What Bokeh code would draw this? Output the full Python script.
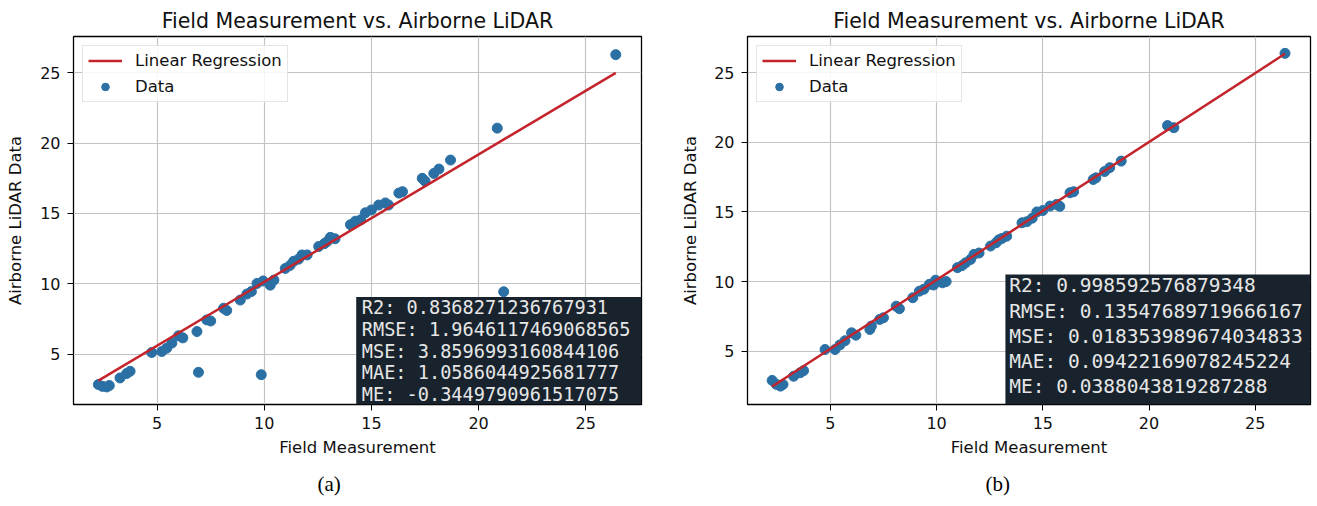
import numpy as np
from bokeh.plotting import figure
from bokeh.layouts import row
from bokeh.models import Legend, LegendItem, BoxAnnotation, Label, Title, FixedTicker
from bokeh.embed import file_html
from bokeh.resources import INLINE

# ---------------- data ----------------
field = [2.26, 2.45, 2.65, 2.77, 3.27, 3.58, 3.74, 4.75, 5.22, 5.45, 5.69, 6.00, 6.20, 6.86,
         6.93, 7.32, 7.50, 8.10, 8.25, 8.88, 9.19, 9.40, 9.66, 9.86, 9.95, 10.28, 10.45, 10.98,
         11.20, 11.37, 11.60, 11.76, 12.00, 12.54, 12.80, 12.93, 13.08, 13.30, 14.02, 14.25,
         14.50, 14.72, 15.00, 15.34, 15.65, 15.80, 16.28, 16.45, 17.37, 17.50, 17.91, 18.15,
         18.69, 20.87, 21.17, 26.40]

lidar_a = [2.83, 2.70, 2.66, 2.76, 3.30, 3.61, 3.77, 5.11, 5.18, 5.42, 5.78, 6.30, 6.15, 6.60,
           3.70, 7.43, 7.35, 8.26, 8.10, 8.84, 9.27, 9.45, 10.02, 3.53, 10.20, 9.90, 10.26, 11.09,
           11.30, 11.60, 11.75, 12.05, 12.05, 12.65, 12.85, 13.00, 13.30, 13.20, 14.20, 14.45,
           14.55, 15.05, 15.25, 15.60, 15.75, 15.60, 16.45, 16.55, 17.50, 17.30, 17.85, 18.16,
           18.80, 21.07, 9.43, 26.30]

lidar_b = [2.90, 2.62, 2.49, 2.61, 3.20, 3.45, 3.60, 5.12, 5.12, 5.45, 5.75, 6.32, 6.15, 6.56,
           6.80, 7.28, 7.40, 8.23, 8.05, 8.84, 9.31, 9.45, 9.80, 9.75, 10.10, 9.91, 10.00, 11.00,
           11.15, 11.35, 11.59, 11.95, 12.05, 12.55, 12.79, 13.00, 13.10, 13.26, 14.22, 14.30,
           14.55, 15.00, 15.10, 15.42, 15.54, 15.40, 16.38, 16.45, 17.33, 17.45, 17.90, 18.18,
           18.65, 21.20, 21.05, 26.39]

# regression lines (slope, intercept) as drawn
reg_a = [0.907, 1.06]
reg_b = [0.990, 0.22]

stats_a = ["R2: 0.8368271236767931",
           "RMSE: 1.9646117469068565",
           "MSE: 3.8596993160844106",
           "MAE: 1.0586044925681777",
           "ME: -0.3449790961517075"]
stats_b = ["R2: 0.998592576879348",
           "RMSE: 0.13547689719666167",
           "MSE: 0.018353989674034833",
           "MAE: 0.09422169078245224",
           "ME: 0.0388043819287288"]

x_ticks = [5, 10, 15, 20, 25]
y_ticks = [5, 10, 15, 20, 25]

TITLE = "Field Measurement vs. Airborne LiDAR"
XLABEL = "Field Measurement"
YLABEL = "Airborne LiDAR Data"

PT_COLOR = "#2b70a4"
LINE_COLOR = "#c4252c"
BOX_COLOR = "#18232d"
FONT = "DejaVu Sans"
FIG_H = 506


def make_panel(y, reg, stats, caption, cfg):
    p = figure(width=cfg["w"], height=FIG_H, x_range=(1.1, 27.6), y_range=cfg["yr"],
               output_backend="svg", toolbar_location=None,
               min_border_left=cfg["bl"], min_border_right=cfg["br"],
               min_border_top=36, min_border_bottom=FIG_H - 405)
    p.background_fill_color = "white"
    p.border_fill_color = "white"
    p.outline_line_color = "black"
    p.outline_line_width = 1.3

    p.title.text = TITLE
    p.title.align = "center"
    p.title.text_font = FONT
    p.title.text_font_size = "20.5px"
    p.title.text_font_style = "normal"
    p.title.text_color = "#111111"
    p.title.standoff = 7

    for ax in (p.xaxis[0], p.yaxis[0]):
        ax.ticker = FixedTicker(ticks=x_ticks)
        ax.axis_line_color = None
        ax.major_tick_in = 0
        ax.major_tick_out = 6
        ax.major_tick_line_color = "black"
        ax.minor_tick_line_color = None
        ax.major_label_text_font = FONT
        ax.major_label_text_font_size = "16px"
        ax.major_label_text_color = "#111111"
        ax.axis_label_text_font = FONT
        ax.axis_label_text_font_size = "16.5px"
        ax.axis_label_text_font_style = "normal"
        ax.axis_label_text_color = "#111111"
    p.yaxis[0].ticker = FixedTicker(ticks=y_ticks)
    p.xaxis.axis_label = XLABEL
    p.yaxis.axis_label = YLABEL
    p.xaxis.major_label_standoff = 6
    p.xaxis.axis_label_standoff = 6
    p.yaxis.major_label_standoff = 7
    p.yaxis.axis_label_standoff = cfg["ylab_standoff"]

    p.grid.grid_line_color = "#c4c4c4"
    p.grid.grid_line_width = 1.2

    sc = p.scatter(field, y, size=10, color=PT_COLOR, line_color=PT_COLOR)
    xs = np.array([min(field), max(field)])
    ln = p.line(xs, reg[0] * xs + reg[1], line_color=LINE_COLOR, line_width=2.5)

    legend = Legend(items=[LegendItem(label="Linear Regression", renderers=[ln]),
                           LegendItem(label="Data", renderers=[sc])],
                    location="top_left")
    legend.margin = 9
    legend.padding = 5
    legend.spacing = 7
    legend.glyph_width = 34
    legend.glyph_height = 19
    legend.label_height = 19
    legend.label_standoff = 13
    legend.label_text_font = FONT
    legend.label_text_font_size = "16.5px"
    legend.label_text_color = "#111111"
    legend.border_line_color = "#cccccc"
    legend.border_line_width = 1
    legend.background_fill_alpha = 0.85
    p.add_layout(legend)

    box = BoxAnnotation(left=cfg["box_left"], right=27.6, top=cfg["box_top"], bottom=cfg["yr"][0],
                        fill_color=BOX_COLOR, fill_alpha=1.0, line_color=None, level="overlay")
    p.add_layout(box)
    for i, s in enumerate(stats):
        lab = Label(x=cfg["text_x"], y=cfg["box_top"], y_offset=-(cfg["lh"] * i),
                    text=s, text_baseline="top", text_align="left",
                    text_font="DejaVu Sans Mono", text_font_size=cfg["fs"],
                    text_color="#e6e6e6", level="overlay")
        p.add_layout(lab)

    cap = Title(text=caption, align="left", offset=cfg["cap_off"],
                text_font="Liberation Serif", text_font_size="21px",
                text_font_style="normal", text_color="black", standoff=21)
    p.add_layout(cap, "below")
    return p


cfg_a = dict(w=660, yr=(1.41, 27.59), bl=73, br=19, ylab_standoff=12,
             box_left=14.29, box_top=9.06, text_x=14.55, lh=21.8, fs="18.6px", cap_off=244)
cfg_b = dict(w=656, yr=(1.17, 27.6), bl=87, br=6, ylab_standoff=11,
             box_left=13.24, box_top=10.51, text_x=13.42, lh=25.2, fs="19.5px", cap_off=238)

p1 = make_panel(lidar_a, reg_a, stats_a, "(a)", cfg_a)
p2 = make_panel(lidar_b, reg_b, stats_b, "(b)", cfg_b)

layout = row(p1, p2)
open("out.html", "w").write(file_html(layout, INLINE))
